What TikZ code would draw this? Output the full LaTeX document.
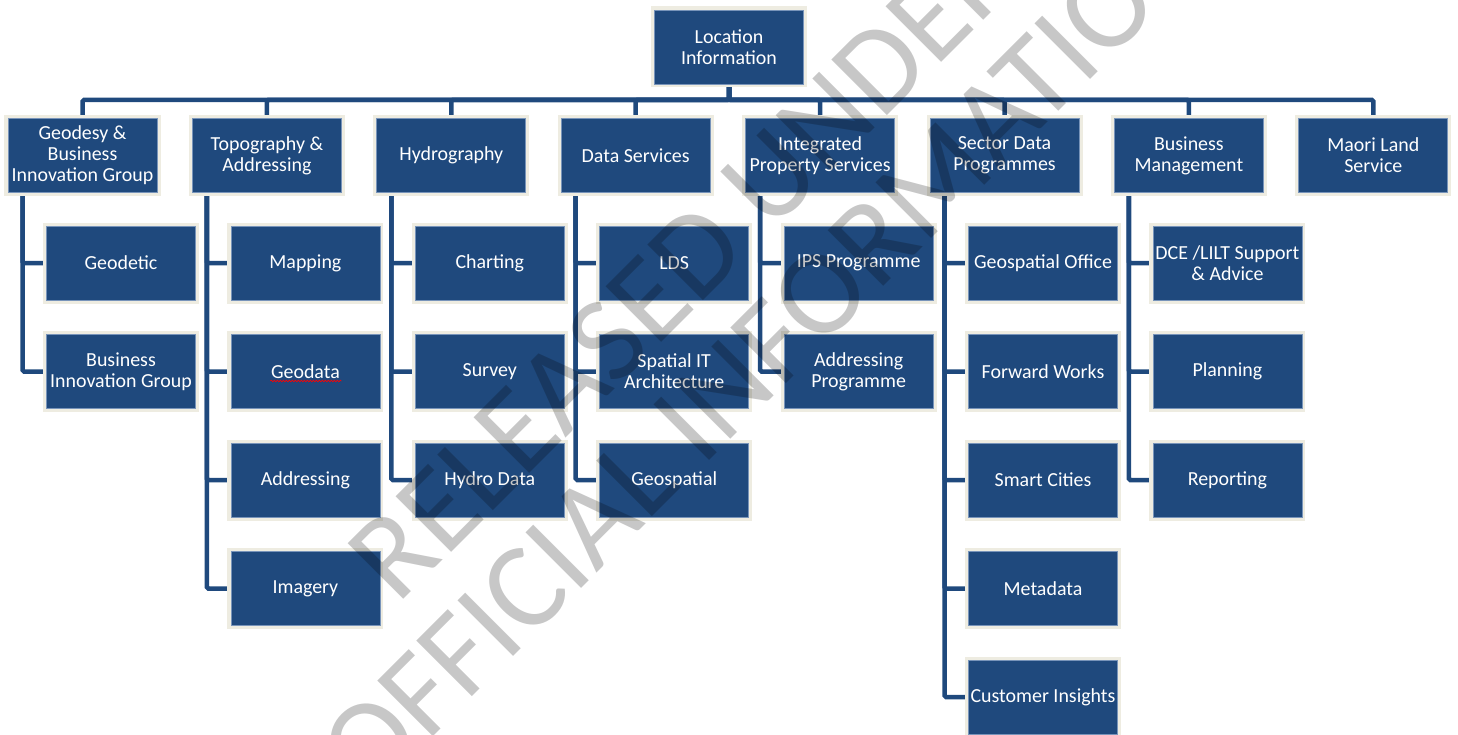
\documentclass[tikz,border=0pt]{standalone}
\usepackage{fontspec}
\setmainfont{Carlito}
\usetikzlibrary{calc,backgrounds,decorations.pathmorphing}
\definecolor{BoxClr}{RGB}{31,73,125}
\definecolor{RimClr}{RGB}{238,236,225}
\definecolor{EdgeClr}{RGB}{120,148,186}

\begin{document}
\begin{tikzpicture}[x=1bp,y=-1bp,
  unit/.style={rectangle,fill=BoxClr,draw=EdgeClr,line width=0.8bp,
    minimum width=149bp,minimum height=74bp,inner sep=0pt,
    text=white,align=center,font=\fontsize{20}{21}\selectfont,
    preaction={draw=RimClr,line width=7bp}},
  link/.style={draw=BoxClr,line width=4.5bp,rounded corners=1.5bp}]
\useasboundingbox (0,0) rectangle (1458,734);

\node[unit] (loc) at (729,47) {Location\\Information};

\node[unit] (geo) at (82.5,155.5) {Geodesy \&\\Business\\Innovation Group};
\node[unit] (topo) at (266.9,155.5) {Topography \&\\Addressing};
\node[unit] (hydro) at (451.3,155.5) {Hydrography};
\node[unit] (data) at (635.7,155.5) {Data Services};
\node[unit] (ips) at (820.1,155.5) {Integrated\\Property Services};
\node[unit] (sector) at (1004.5,155.5) {Sector Data\\Programmes};
\node[unit] (bm) at (1188.9,155.5) {Business\\Management};
\node[unit] (maori) at (1373.3,155.5) {Maori Land\\Service};

\node[unit] (geo1) at (121,263) {Geodetic};
\node[unit] (geo2) at (121,371.5) {Business\\Innovation Group};

\node[unit] (topo1) at (305.4,263) {Mapping};
\node[unit] (topo2) at (305.4,371.5) {Geodata};
\node[unit] (topo3) at (305.4,480) {Addressing};
\node[unit] (topo4) at (305.4,588.5) {Imagery};

\node[unit] (hydro1) at (489.8,263) {Charting};
\node[unit] (hydro2) at (489.8,371.5) {Survey};
\node[unit] (hydro3) at (489.8,480) {Hydro Data};

\node[unit] (data1) at (674.2,263) {LDS};
\node[unit] (data2) at (674.2,371.5) {Spatial IT\\Architecture};
\node[unit] (data3) at (674.2,480) {Geospatial};

\node[unit] (ips1) at (858.6,263) {IPS Programme};
\node[unit] (ips2) at (858.6,371.5) {Addressing\\Programme};

\node[unit] (sector1) at (1043,263) {Geospatial Office};
\node[unit] (sector2) at (1043,371.5) {Forward Works};
\node[unit] (sector3) at (1043,480) {Smart Cities};
\node[unit] (sector4) at (1043,588.5) {Metadata};
\node[unit] (sector5) at (1043,697) {Customer Insights};

\node[unit] (bm1) at (1227.4,263) {DCE /LILT Support\\\& Advice};
\node[unit] (bm2) at (1227.4,371.5) {Planning};
\node[unit] (bm3) at (1227.4,480) {Reporting};

\draw[red,line width=0.7bp,decorate,decoration={snake,segment length=3bp,amplitude=0.8bp}]
  ($(topo2.center)+(-35,9.5)$) -- ($(topo2.center)+(36,9.5)$);

\begin{scope}[on background layer]
\coordinate (bus) at (729,100);
\foreach \dn in {geo,topo,hydro,data,ips,sector,bm,maori}
  \draw[link] (loc.south) -- (bus) -| (\dn.north);
\foreach \up/\dn in {geo/geo1,geo/geo2,topo/topo1,topo/topo2,topo/topo3,topo/topo4,
  hydro/hydro1,hydro/hydro2,hydro/hydro3,data/data1,data/data2,data/data3,
  ips/ips1,ips/ips2,sector/sector1,sector/sector2,sector/sector3,sector/sector4,
  sector/sector5,bm/bm1,bm/bm2,bm/bm3}
  \draw[link] ($(\up.south)+(-60,0)$) |- (\dn.west);
\end{scope}

\node[text=black,text opacity=0.22,rotate=45,align=center,inner sep=0pt,
  font=\fontsize{123}{118}\selectfont] (mark) at (725,306)
  {RELEASED UNDER\\OFFICIAL INFORMATION};

\end{tikzpicture}
\end{document}
